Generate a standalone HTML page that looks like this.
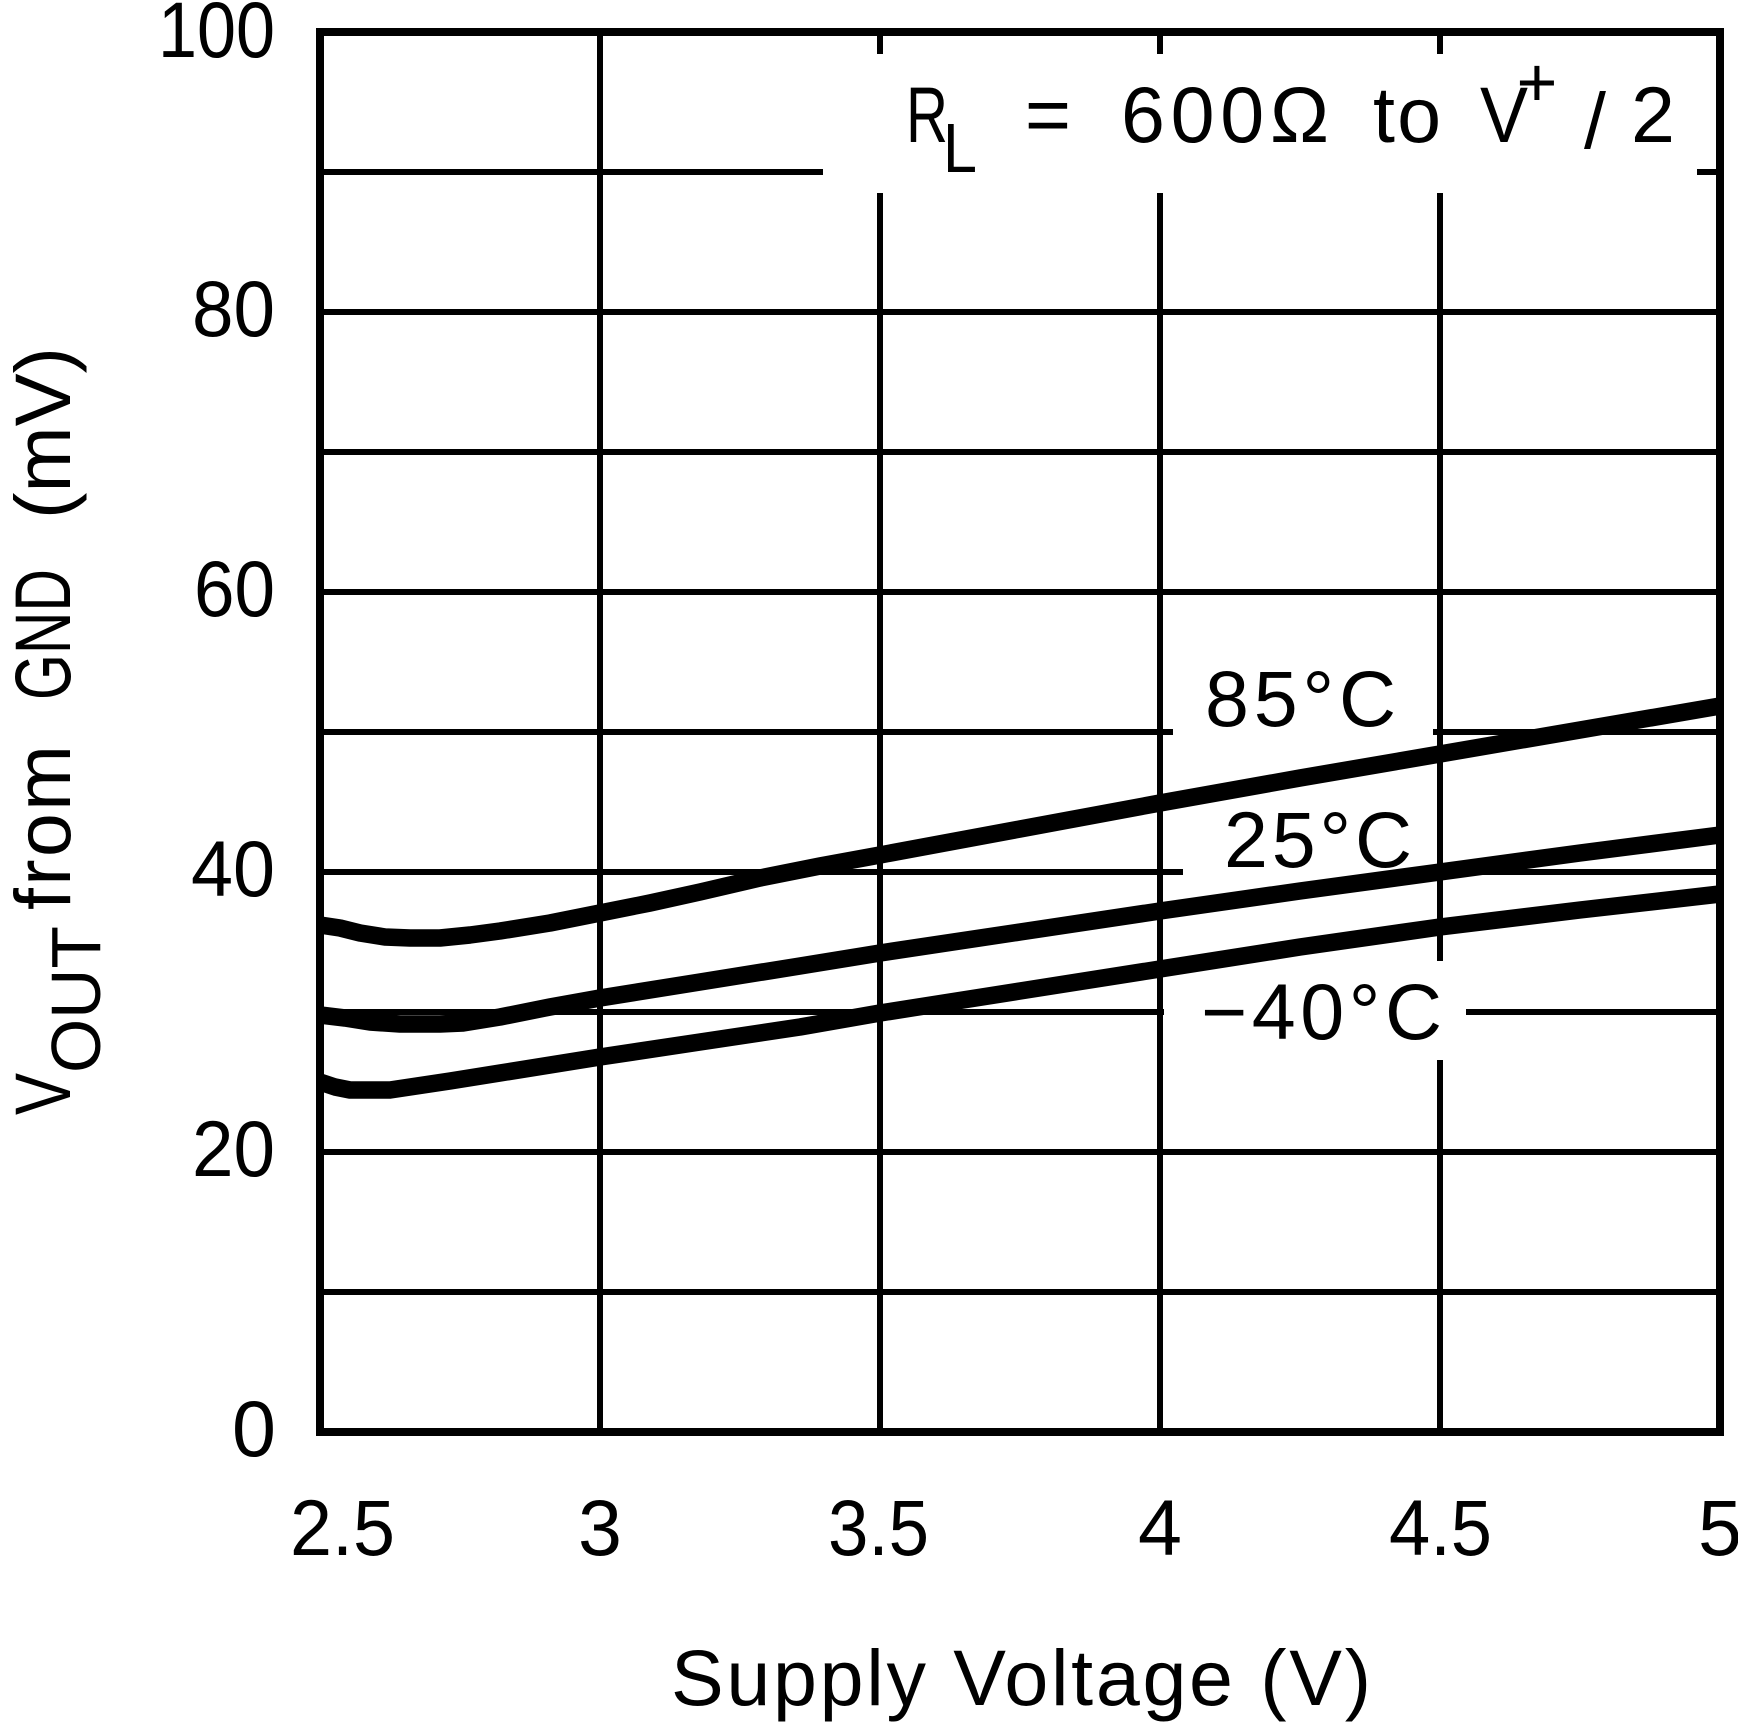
<!DOCTYPE html>
<html>
<head>
<meta charset="utf-8">
<style>
  html, body { margin: 0; padding: 0; background: #fff; }
  svg { display: block; }
  text { font-family: "Liberation Sans", Arial, sans-serif; fill: #000; }
</style>
</head>
<body>
<svg width="1738" height="1725" viewBox="0 0 1738 1725" xmlns="http://www.w3.org/2000/svg">
  <rect x="0" y="0" width="1738" height="1725" fill="#fff"/>

  <!-- grid -->
  <g stroke="#000" stroke-width="6" fill="none">
    <line x1="600" y1="32" x2="600" y2="1432"/>
    <line x1="880" y1="32" x2="880" y2="1432"/>
    <line x1="1160" y1="32" x2="1160" y2="1432"/>
    <line x1="1440" y1="32" x2="1440" y2="1432"/>
    <line x1="320" y1="172" x2="1720" y2="172"/>
    <line x1="320" y1="312" x2="1720" y2="312"/>
    <line x1="320" y1="452" x2="1720" y2="452"/>
    <line x1="320" y1="592" x2="1720" y2="592"/>
    <line x1="320" y1="732" x2="1720" y2="732"/>
    <line x1="320" y1="872" x2="1720" y2="872"/>
    <line x1="320" y1="1012" x2="1720" y2="1012"/>
    <line x1="320" y1="1152" x2="1720" y2="1152"/>
    <line x1="320" y1="1292" x2="1720" y2="1292"/>
  </g>

  <!-- label background boxes -->
  <g fill="#fff">
    <rect x="823" y="54" width="874" height="139"/>
    <rect x="1173" y="660" width="260" height="85"/>
    <rect x="1183" y="795" width="254" height="85"/>
    <rect x="1164" y="961" width="302" height="99"/>
  </g>

  <!-- border -->
  <rect x="320" y="32" width="1400" height="1400" fill="none" stroke="#000" stroke-width="8"/>

  <!-- curves -->
  <g fill="none" stroke="#000" stroke-width="17.5" stroke-linejoin="round" stroke-linecap="butt">
    <!-- 85C -->
    <polyline points="320,925 340,928 360,933 385,937 410,938 440,938 470,935 500,931 550,923 600,913 650,903 700,892 760,878 820,866 880,855 1020,829 1160,803 1300,778 1440,754 1580,730 1720,706"/>
    <!-- 25C -->
    <polyline points="320,1015 345,1018 370,1022 400,1024 440,1024 463,1023 500,1017 550,1007 600,998 700,982 800,966 880,953 1020,932 1160,911 1300,891 1440,872 1580,853 1720,835"/>
    <!-- -40C -->
    <polyline points="320,1082 335,1087 350,1090 390,1090 450,1081 500,1073 600,1057 700,1042 800,1027 880,1013 1020,991 1160,969 1300,947 1440,927 1580,910 1720,894"/>
  </g>

  <!-- y tick labels -->
  <g font-size="79">
    <text x="158" y="57" textLength="117" lengthAdjust="spacingAndGlyphs">100</text>
    <text x="192" y="336" textLength="83" lengthAdjust="spacingAndGlyphs">80</text>
    <text x="194" y="616" textLength="81" lengthAdjust="spacingAndGlyphs">60</text>
    <text x="191" y="896" textLength="84" lengthAdjust="spacingAndGlyphs">40</text>
    <text x="192" y="1176" textLength="83" lengthAdjust="spacingAndGlyphs">20</text>
    <text x="254" y="1456" text-anchor="middle">0</text>
  </g>

  <!-- x tick labels -->
  <g font-size="79">
    <text x="290" y="1555" textLength="105" lengthAdjust="spacingAndGlyphs">2.5</text>
    <text x="600" y="1555" text-anchor="middle">3</text>
    <text x="828" y="1555" textLength="101" lengthAdjust="spacingAndGlyphs">3.5</text>
    <text x="1160" y="1555" text-anchor="middle">4</text>
    <text x="1389" y="1555" textLength="103" lengthAdjust="spacingAndGlyphs">4.5</text>
    <text x="1720" y="1555" text-anchor="middle">5</text>
  </g>

  <!-- x axis title -->
  <text x="671" y="1705" font-size="79" textLength="700" lengthAdjust="spacing">Supply Voltage (V)</text>

  <!-- y axis title -->
  <g transform="translate(70,1114) rotate(-90)">
    <text x="-1" y="0" font-size="79" textLength="42" lengthAdjust="spacingAndGlyphs">V</text>
    <text x="41" y="30" font-size="70" textLength="147" lengthAdjust="spacingAndGlyphs">OUT</text>
    <text x="204" y="0" font-size="79" textLength="165" lengthAdjust="spacing">from</text>
    <text x="414" y="0" font-size="79" textLength="131" lengthAdjust="spacingAndGlyphs">GND</text>
    <text x="595" y="0" font-size="79" textLength="172" lengthAdjust="spacingAndGlyphs">(mV)</text>
  </g>

  <!-- annotation -->
  <g font-size="79">
    <text x="906" y="142" textLength="42" lengthAdjust="spacingAndGlyphs">R</text>
    <text x="943" y="172" font-size="70" textLength="34" lengthAdjust="spacingAndGlyphs">L</text>
    <text x="1048" y="142" text-anchor="middle">=</text>
    <text x="1121" y="142" textLength="208" lengthAdjust="spacing">600Ω</text>
    <text x="1373" y="142" textLength="68" lengthAdjust="spacing">to</text>
    <text x="1504" y="142" text-anchor="middle" textLength="48" lengthAdjust="spacingAndGlyphs">V</text>
    <text x="1537" y="106" font-size="70" text-anchor="middle">+</text>
    <text x="1595" y="148" text-anchor="middle">/</text>
    <text x="1653" y="142" text-anchor="middle">2</text>
  </g>

  <!-- curve labels -->
  <g font-size="79">
    <text x="1205" y="726" textLength="191" lengthAdjust="spacing">85°C</text>
    <text x="1224" y="867" textLength="188" lengthAdjust="spacing">25°C</text>
    <text x="1201" y="1039" textLength="241" lengthAdjust="spacing">−40°C</text>
  </g>
</svg>
</body>
</html>
